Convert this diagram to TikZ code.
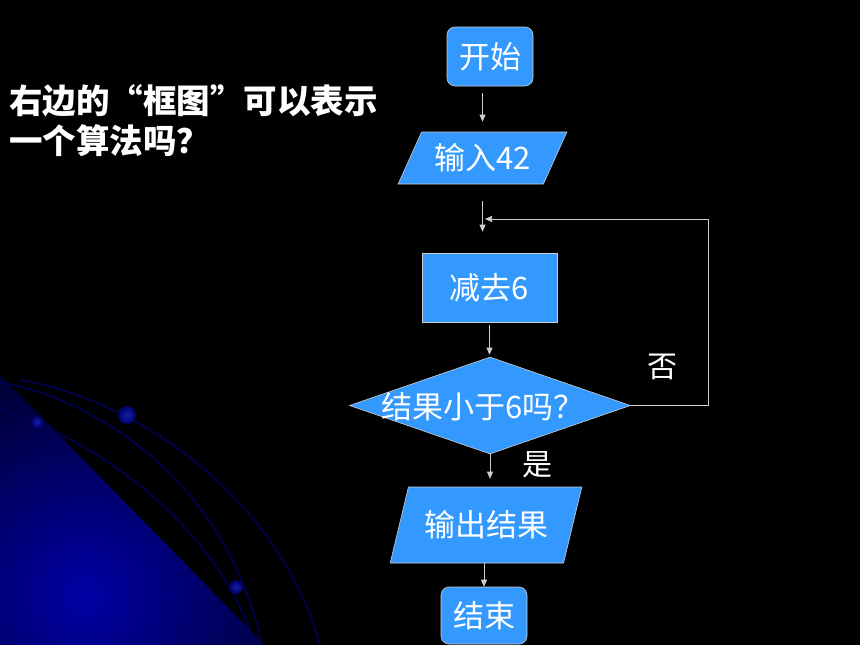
\documentclass[tikz,border=0pt]{standalone}
\usepackage{fontspec}
\setmainfont{Noto Sans CJK SC}
\usetikzlibrary{shapes.geometric,arrows.meta}
\definecolor{boxblue}{RGB}{51,153,255}
\definecolor{edgegray}{RGB}{205,205,205}
\definecolor{arcblue}{RGB}{0,0,85}
\definecolor{triblue}{RGB}{0,0,165}
\definecolor{tridark}{RGB}{0,0,35}
\definecolor{ballin}{RGB}{20,30,170}
\definecolor{ballout}{RGB}{0,0,100}
\begin{document}
\begin{tikzpicture}[x=1pt,y=-1pt,
  fc/.style={fill=boxblue,draw=edgegray,line width=0.6pt,text=white,font=\fontsize{31}{31}\selectfont,inner sep=0pt},
  term/.style={fc,rounded corners=8pt,minimum width=86pt,minimum height=59pt},
  proc/.style={fc,minimum width=135pt,minimum height=69pt},
  io/.style={fc,trapezium,trapezium stretches=true},
  decision/.style={fc,diamond,minimum width=281pt,minimum height=97pt},
  txt/.style={text=white,font=\fontsize{31}{31}\selectfont,inner sep=0pt},
  lbl/.style={text=white,font=\fontsize{30}{30}\selectfont,inner sep=0pt},
  arr/.style={draw=edgegray,line width=0.7pt,-{Triangle[length=7pt,width=6pt]}},
  arcline/.style={draw=arcblue,line width=1.6pt},
  ball/.style={inner color=ballin,outer color=ballout}]
\useasboundingbox (0,0) rectangle (860,645);
\fill[black] (0,0) rectangle (860,645);
% background decoration
\begin{scope}
  \clip (0,375) -- (265,645) -- (0,645) -- cycle;
  \shade[inner color=triblue,outer color=tridark] (85,595) circle (260);
\end{scope}
\draw[arcline] (20,380) .. controls (140,400) and (280,500) .. (320,645);
\draw[arcline] (0,382) .. controls (100,400) and (228,485) .. (262,645);
\draw[arcline] (0,410) .. controls (100,440) and (220,530) .. (255,645);
\shade[ball] (127,415) circle (9);
\shade[ball] (37,422) circle (6);
\shade[ball] (236,587) circle (7);
% question text
\node[text=white,font=\bfseries\fontsize{33.5}{40}\selectfont,align=left,anchor=west,inner sep=0pt] (q) at (9,121) {右边的“框图”可以表示\\一个算法吗？};
% flowchart
\node[term] (s) at (490,56.5) {开始};
\node[io,trapezium left angle=57,trapezium right angle=123,minimum width=169pt,minimum height=52pt] (p1) at (482.5,158) {输入42};
\node[proc] (r) at (489.5,287.5) {减去6};
\node[decision] (d) at (490,405.5) {};
\node[txt] (dt) at (483,407) {结果小于6吗？};
\node[io,trapezium left angle=63,trapezium right angle=117,minimum width=192pt,minimum height=76pt] (p2) at (486,525) {输出结果};
\node[term,minimum height=57pt] (e) at (484,615.5) {结束};
\node[lbl] (no) at (662,367) {否};
\node[lbl] (yes) at (537,465) {是};
\coordinate (j) at (485,219);
% connectors
\draw[arr,shorten <=7pt,shorten >=10pt] (s.south -| p1.north) -- (p1.north);
\draw[arr,shorten <=17pt,shorten >=21pt] (p1.south) -- (p1.south |- r.north);
\draw[arr] (d.east) -- ++(78,0) |- (j);
\draw[arr,shorten <=3pt,shorten >=2pt] (r.south) -- (r.south |- d.north);
\draw[arr,shorten >=8pt] (d.south) -- (d.south |- p2.north);
\draw[arr] (e.north |- p2.south) -- (e.north);
\end{tikzpicture}
\end{document}
